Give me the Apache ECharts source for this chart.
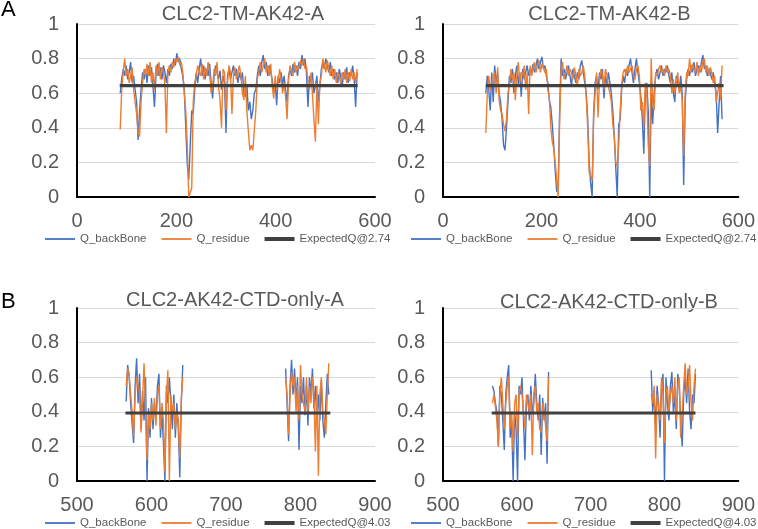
<!DOCTYPE html>
<html>
<head>
<meta charset="utf-8">
<script src="https://cdn.jsdelivr.net/npm/echarts@6/dist/echarts.min.js"></script>
<style>html,body{margin:0;padding:0;background:#fff;}#c{width:758px;height:529px;}</style>
</head>
<body>
<div id="c"></div>
<script>
// ---------- DATA ----------
const panelTitles = ['CLC2-TM-AK42-A', 'CLC2-TM-AK42-B', 'CLC2-AK42-CTD-only-A', 'CLC2-AK42-CTD-only-B'];
const seriesNames = ['Q_backBone', 'Q_residue'];
const expectedNames = ['ExpectedQ@2.74', 'ExpectedQ@4.03'];
const expectedTM = 0.644;
const expectedCTD = 0.393;
const expectedTM_A_range = [86, 565];
const expectedTM_B_range = [87, 570];
const expectedCTD_A_range = [565, 840];
const expectedCTD_B_range = [566, 842];

// TM-A : residues 87.. step 3
const tmA_start = 87, tmA_step = 3;
const tmA_backbone = [
0.6,0.68,0.74,0.7,0.76,0.68,0.72,0.78,0.66,0.7,
0.62,0.55,0.33,0.5,0.62,0.72,0.68,0.74,0.66,0.76,
0.7,0.75,0.64,0.52,0.7,0.77,0.7,0.75,0.68,0.76,
0.72,0.66,0.74,0.7,0.77,0.74,0.8,0.76,0.83,0.78,
0.8,0.74,0.7,0.62,0.4,0.19,0.1,0.3,0.5,0.48,
0.62,0.72,0.66,0.74,0.8,0.7,0.76,0.68,0.74,0.7,
0.77,0.66,0.57,0.7,0.76,0.72,0.68,0.73,0.62,0.7,
0.66,0.37,0.7,0.74,0.68,0.72,0.76,0.7,0.74,0.66,
0.72,0.68,0.72,0.6,0.58,0.65,0.5,0.55,0.45,0.5,
0.6,0.62,0.7,0.76,0.7,0.78,0.82,0.74,0.78,0.7,
0.76,0.72,0.68,0.6,0.66,0.53,0.7,0.66,0.72,0.65,
0.7,0.62,0.55,0.7,0.74,0.7,0.77,0.72,0.76,0.7,
0.78,0.74,0.82,0.76,0.8,0.72,0.52,0.7,0.66,0.72,
0.6,0.64,0.7,0.55,0.64,0.74,0.78,0.74,0.8,0.76,
0.72,0.78,0.7,0.74,0.68,0.72,0.66,0.74,0.7,0.64,
0.72,0.68,0.75,0.66,0.72,0.7,0.76,0.68,0.52,0.72];
const tmA_residue = [
0.39,0.62,0.72,0.8,0.7,0.74,0.66,0.7,0.75,0.62,
0.55,0.48,0.38,0.35,0.55,0.66,0.74,0.7,0.77,0.7,
0.78,0.66,0.72,0.62,0.76,0.7,0.78,0.68,0.75,0.72,
0.65,0.37,0.72,0.76,0.72,0.78,0.75,0.8,0.78,0.81,
0.76,0.78,0.72,0.6,0.5,0.3,0,0,0.05,0.55,
0.66,0.7,0.76,0.72,0.7,0.77,0.68,0.75,0.7,0.78,
0.72,0.6,0.64,0.74,0.7,0.78,0.64,0.56,0.4,0.74,
0.72,0.5,0.66,0.76,0.72,0.48,0.7,0.75,0.68,0.72,
0.76,0.7,0.6,0.56,0.7,0.5,0.38,0.27,0.3,0.27,
0.26,0.5,0.68,0.72,0.78,0.72,0.76,0.8,0.72,0.76,
0.7,0.77,0.64,0.57,0.7,0.62,0.66,0.74,0.68,0.6,
0.66,0.58,0.45,0.68,0.76,0.72,0.7,0.78,0.72,0.76,
0.74,0.79,0.76,0.8,0.74,0.76,0.66,0.62,0.72,0.6,
0.45,0.32,0.66,0.42,0.66,0.7,0.8,0.76,0.72,0.79,
0.74,0.7,0.76,0.68,0.74,0.66,0.72,0.7,0.65,0.72,
0.68,0.74,0.66,0.72,0.67,0.74,0.68,0.72,0.66,0.74];

// TM-B : residues 87.. step 3
const tmB_start = 87, tmB_step = 3;
const tmB_backbone = [
0.6,0.7,0.62,0.5,0.72,0.55,0.76,0.66,0.72,0.6,
0.55,0.45,0.3,0.27,0.4,0.55,0.7,0.66,0.74,0.6,
0.7,0.76,0.65,0.72,0.58,0.74,0.68,0.72,0.76,0.7,
0.74,0.72,0.77,0.72,0.76,0.8,0.74,0.78,0.81,0.74,
0.76,0.7,0.66,0.56,0.52,0.42,0.3,0.15,0.03,0.05,
0.5,0.8,0.7,0.74,0.68,0.72,0.76,0.7,0.64,0.74,
0.7,0.66,0.72,0.68,0.76,0.79,0.72,0.66,0.6,0.45,
0.2,0.08,0.0,0.48,0.66,0.7,0.62,0.72,0.68,0.74,
0.57,0.7,0.65,0.72,0.66,0.6,0.5,0.35,0.17,0.0,
0.42,0.45,0.62,0.7,0.66,0.74,0.7,0.76,0.8,0.72,
0.66,0.74,0.8,0.72,0.66,0.58,0.45,0.25,0.6,0.66,
0.5,0.0,0.6,0.42,0.6,0.7,0.74,0.68,0.72,0.76,
0.7,0.74,0.72,0.76,0.7,0.66,0.72,0.6,0.55,0.7,
0.66,0.62,0.7,0.6,0.07,0.55,0.68,0.74,0.7,0.76,
0.72,0.78,0.7,0.74,0.76,0.72,0.78,0.82,0.74,0.76,
0.7,0.74,0.72,0.68,0.72,0.66,0.6,0.37,0.54,0.7,
0.45];
const tmB_residue = [
0.37,0.6,0.7,0.62,0.66,0.7,0.72,0.6,0.75,0.56,
0.5,0.48,0.42,0.38,0.45,0.6,0.65,0.74,0.68,0.72,
0.56,0.7,0.78,0.66,0.72,0.7,0.76,0.62,0.72,0.48,
0.76,0.7,0.74,0.78,0.72,0.76,0.79,0.72,0.77,0.75,
0.72,0.74,0.62,0.58,0.4,0.32,0.28,0.2,0.1,0.0,
0.45,0.74,0.78,0.68,0.72,0.76,0.7,0.74,0.72,0.68,
0.75,0.7,0.64,0.74,0.7,0.72,0.76,0.7,0.58,0.4,
0.14,0.12,0.1,0.45,0.6,0.72,0.46,0.68,0.74,0.7,
0.62,0.74,0.7,0.64,0.6,0.55,0.42,0.35,0.2,0.18,
0.3,0.5,0.65,0.72,0.74,0.7,0.76,0.72,0.74,0.76,
0.7,0.68,0.74,0.76,0.7,0.5,0.55,0.4,0.66,0.6,
0.3,0.18,0.8,0.55,0.5,0.72,0.7,0.74,0.76,0.72,
0.74,0.7,0.76,0.72,0.74,0.7,0.6,0.68,0.6,0.66,
0.72,0.6,0.64,0.56,0.24,0.6,0.72,0.7,0.8,0.72,
0.77,0.74,0.72,0.78,0.7,0.76,0.72,0.78,0.8,0.72,
0.76,0.7,0.75,0.72,0.66,0.7,0.55,0.6,0.66,0.56,
0.76];

// CTD-A : two segments, step 2
const ctdA_step = 2;
const ctdA_seg1_start = 566;
const ctdA_seg1_backbone = [0.46,0.67,0.6,0.45,0.33,0.22,0.55,0.71,0.45,0.62,0.3,0.52,0.35,0.6,0.0,0.42,0.25,0.48,0.3,0.45,0.35,0.55,0.62,0.25,0.4,0.22,0.0,0.55,0.45,0.6,0.45,0.3,0.5,0.25,0.45,0.3,0.02,0.45,0.67];
const ctdA_seg1_residue  = [0.55,0.65,0.62,0.5,0.4,0.26,0.5,0.6,0.55,0.5,0.28,0.48,0.68,0.4,0.12,0.38,0.3,0.45,0.35,0.48,0.32,0.5,0.55,0.3,0.45,0.35,0.05,0.5,0.64,0.0,0.5,0.4,0.45,0.3,0.4,0.35,0.13,0.48,0.6];
const ctdA_seg2_start = 780;
const ctdA_seg2_backbone = [0.65,0.45,0.23,0.55,0.7,0.5,0.65,0.45,0.6,0.18,0.55,0.45,0.6,0.38,0.55,0.32,0.6,0.5,0.65,0.42,0.55,0.35,0.5,0.35,0.58,0.35,0.25,0.45,0.62,0.5];
const ctdA_seg2_residue  = [0.6,0.5,0.27,0.5,0.63,0.55,0.6,0.4,0.55,0.35,0.67,0.5,0.45,0.4,0.6,0.4,0.55,0.45,0.6,0.5,0.17,0.55,0.03,0.5,0.6,0.4,0.35,0.27,0.5,0.68];

// CTD-B : two segments, step 2
const ctdB_step = 2;
const ctdB_seg1_start = 567;
const ctdB_seg1_backbone = [0.55,0.52,0.45,0.4,0.2,0.55,0.5,0.35,0.18,0.5,0.6,0.67,0.25,0.35,0.0,0.4,0.3,0.0,0.55,0.5,0.6,0.35,0.12,0.45,0.5,0.35,0.55,0.4,0.45,0.62,0.45,0.35,0.5,0.15,0.48,0.35,0.45,0.1,0.63];
const ctdB_seg1_residue  = [0.45,0.5,0.5,0.35,0.2,0.5,0.6,0.45,0.3,0.45,0.55,0.6,0.3,0.4,0.17,0.45,0.5,0.25,0.5,0.55,0.5,0.4,0.3,0.5,0.45,0.4,0.5,0.15,0.5,0.55,0.4,0.45,0.3,0.28,0.45,0.4,0.4,0.23,0.6];
const ctdB_seg2_start = 782;
const ctdB_seg2_backbone = [0.64,0.4,0.5,0.3,0.55,0.45,0.25,0.55,0.62,0.0,0.6,0.45,0.35,0.55,0.63,0.4,0.5,0.3,0.62,0.55,0.35,0.2,0.5,0.6,0.45,0.65,0.4,0.3,0.5,0.45,0.62];
const ctdB_seg2_residue  = [0.5,0.45,0.55,0.13,0.5,0.5,0.35,0.6,0.5,0.22,0.5,0.55,0.4,0.5,0.55,0.45,0.6,0.35,0.55,0.6,0.25,0.4,0.55,0.68,0.5,0.55,0.67,0.45,0.35,0.55,0.65];

const xTicksTM = {min: 0, max: 600, interval: 200};
const xTicksCTD = {min: 500, max: 900, interval: 100};
const yTicks = {min: 0, max: 1, interval: 0.2};

// ---------- BUILD ----------
function seq(start, step, vals) { return vals.map((v, i) => [start + i * step, v]); }
function twoSegs(s1, v1, s2, v2, step) {
  const a = seq(s1, step, v1), b = seq(s2, step, v2);
  const gapX = (a[a.length - 1][0] + b[0][0]) / 2;
  return a.concat([[gapX, null]], b);
}

const FONT = "'Liberation Sans', Arial, sans-serif";
const BLUE = '#4472C4', ORANGE = '#ED7D31', DARK = '#404040', TXT = '#595959';

const grids = [
  {left: 77, top: 24, width: 298, height: 173},
  {left: 443, top: 24, width: 297, height: 173},
  {left: 77, top: 308, width: 298, height: 173},
  {left: 443, top: 308, width: 297, height: 173}
];

function xAx(i, t) {
  return {
    gridIndex: i, type: 'value', min: t.min, max: t.max, interval: t.interval,
    axisLine: {show: true, onZero: false, lineStyle: {color: '#000', width: 2}},
    axisTick: {show: false}, splitLine: {show: false},
    axisLabel: {color: TXT, fontSize: 20, fontFamily: FONT, margin: 14}
  };
}
function yAx(i) {
  return {
    gridIndex: i, type: 'value', min: yTicks.min, max: yTicks.max, interval: yTicks.interval,
    axisLine: {show: true, onZero: false, lineStyle: {color: '#000', width: 2}},
    axisTick: {show: false},
    splitLine: {show: true, lineStyle: {color: '#D9D9D9', width: 1}},
    axisLabel: {color: TXT, fontSize: 20, fontFamily: FONT, margin: 18}
  };
}

const panelData = [
  [seq(tmA_start, tmA_step, tmA_backbone), seq(tmA_start, tmA_step, tmA_residue),
   [[expectedTM_A_range[0], expectedTM], [expectedTM_A_range[1], expectedTM]], expectedNames[0]],
  [seq(tmB_start, tmB_step, tmB_backbone), seq(tmB_start, tmB_step, tmB_residue),
   [[expectedTM_B_range[0], expectedTM], [expectedTM_B_range[1], expectedTM]], expectedNames[0]],
  [twoSegs(ctdA_seg1_start, ctdA_seg1_backbone, ctdA_seg2_start, ctdA_seg2_backbone, ctdA_step),
   twoSegs(ctdA_seg1_start, ctdA_seg1_residue, ctdA_seg2_start, ctdA_seg2_residue, ctdA_step),
   [[expectedCTD_A_range[0], expectedCTD], [expectedCTD_A_range[1], expectedCTD]], expectedNames[1]],
  [twoSegs(ctdB_seg1_start, ctdB_seg1_backbone, ctdB_seg2_start, ctdB_seg2_backbone, ctdB_step),
   twoSegs(ctdB_seg1_start, ctdB_seg1_residue, ctdB_seg2_start, ctdB_seg2_residue, ctdB_step),
   [[expectedCTD_B_range[0], expectedCTD], [expectedCTD_B_range[1], expectedCTD]], expectedNames[1]]
];

const series = [];
panelData.forEach((p, i) => {
  series.push({name: seriesNames[0], type: 'line', xAxisIndex: i, yAxisIndex: i, data: p[0],
    symbol: 'none', connectNulls: false, lineStyle: {color: BLUE, width: 1.4}, itemStyle: {color: BLUE}});
  series.push({name: seriesNames[1], type: 'line', xAxisIndex: i, yAxisIndex: i, data: p[1],
    symbol: 'none', connectNulls: false, lineStyle: {color: ORANGE, width: 1.4}, itemStyle: {color: ORANGE}});
  series.push({name: p[3], type: 'line', xAxisIndex: i, yAxisIndex: i, data: p[2],
    symbol: 'none', lineStyle: {color: DARK, width: 3.2}, itemStyle: {color: DARK}});
});

const thinIcon = 'path://M0,0H30V1.8H0Z';
const thickIcon = 'path://M0,0H30V4H0Z';
function legend(left, top, expName) {
  return {
    left: left, top: top, padding: 0, itemWidth: 30, itemHeight: 4, itemGap: 15,
    symbolKeepAspect: true,
    textStyle: {color: TXT, fontSize: 11.5, fontFamily: FONT},
    data: [{name: seriesNames[0], icon: thinIcon}, {name: seriesNames[1], icon: thinIcon}, {name: expName, icon: thickIcon}]
  };
}

function txt(x, y, s, size, color) {
  return {type: 'text', x: x, y: y, style: {text: s, fontSize: size, fontFamily: FONT, fill: color,
    align: 'center', verticalAlign: 'middle', textAlign: 'center', textVerticalAlign: 'middle'}};
}
function ltxt(x, y, s, size, color) {
  return {type: 'text', x: x, y: y, style: {text: s, fontSize: size, fontFamily: FONT, fill: color,
    align: 'left', verticalAlign: 'middle', textAlign: 'left', textVerticalAlign: 'middle'}};
}

const chart = echarts.init(document.getElementById('c'), null, {renderer: 'canvas'});
chart.setOption({
  animation: false,
  backgroundColor: '#fff',
  grid: grids,
  xAxis: [xAx(0, xTicksTM), xAx(1, xTicksTM), xAx(2, xTicksCTD), xAx(3, xTicksCTD)],
  yAxis: [yAx(0), yAx(1), yAx(2), yAx(3)],
  legend: [legend(45, 233, expectedNames[0]), legend(411, 233, expectedNames[0]),
           legend(45, 517, expectedNames[1]), legend(411, 517, expectedNames[1])],
  graphic: [
    ltxt(1, 10, 'A', 22, '#000'),
    ltxt(1, 301.5, 'B', 22, '#000'),
    txt(243, 14, panelTitles[0], 20, TXT),
    txt(609.5, 14, panelTitles[1], 20, TXT),
    txt(235, 300.5, panelTitles[2], 20, TXT),
    txt(609, 302.5, panelTitles[3], 20, TXT)
  ],
  series: series
});
</script>
</body>
</html>
